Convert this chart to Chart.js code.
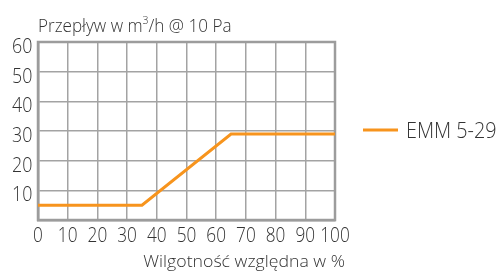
<!DOCTYPE html>
<html><head><meta charset="utf-8">
<script src="https://cdn.jsdelivr.net/npm/chart.js@4"></script>
<style>html,body{margin:0;padding:0;background:#fff}#c{display:block}</style>
</head><body>
<canvas id="c" width="501" height="271"></canvas>
<script>
const humidity = [0, 35, 65, 100];
const flow = [5, 5, 29, 29];
const seriesLabel = 'EMM 5-29';
const xTicks = [0,10,20,30,40,50,60,70,80,90,100];
const yTicks = [10,20,30,40,50,60];
const yTitleParts = ['Przepływ w m', '3', '/h @ 10 Pa'];
const xTitle = 'Wilgotność względna w %';

const FAMILY = "'Open Sans', 'Noto Sans', sans-serif";
const TEXT = '#333';
const orange = '#f7941d';

function txt(ctx, s, x, y, size, sx, align, base) {
  ctx.save();
  ctx.font = '300 ' + size + 'px ' + FAMILY;
  ctx.translate(x, y);
  ctx.scale(sx, 1);
  ctx.textAlign = align || 'left';
  ctx.textBaseline = base || 'alphabetic';
  ctx.fillText(s, 0, 0);
  const w = ctx.measureText(s).width * sx;
  ctx.restore();
  return w;
}

const overlay = {
  id: 'overlay',
  afterDraw(chart) {
    const ctx = chart.ctx, a = chart.chartArea;
    const xs = chart.scales.x, ys = chart.scales.y;
    ctx.save();
    ctx.fillStyle = TEXT;
    // tick labels
    xTicks.forEach(v => txt(ctx, String(v), xs.getPixelForValue(v), 236, 21, 0.82, 'center', 'middle'));
    yTicks.forEach(v => txt(ctx, String(v), 32.5, ys.getPixelForValue(v) + 5, 21, 0.85, 'right', 'middle'));
    // y title with superscript
    let x = a.left;
    const base = 32;
    x += txt(ctx, yTitleParts[0], x, base, 18, 0.95);
    x += txt(ctx, yTitleParts[1], x, base - 8, 11, 0.95);
    txt(ctx, yTitleParts[2], x, base, 18, 0.95);
    // x title
    txt(ctx, xTitle, a.right + 10, 267, 17, 1.04, 'right');
    // legend
    const ds = chart.data.datasets[0];
    ctx.strokeStyle = ds.borderColor;
    ctx.lineWidth = 3;
    ctx.beginPath();
    ctx.moveTo(363, 130); ctx.lineTo(398, 130);
    ctx.stroke();
    txt(ctx, ds.label, 406, 137.5, 22, 0.9);
    ctx.restore();
  }
};

new Chart(document.getElementById('c'), {
  type: 'line',
  data: {
    datasets: [{
      label: seriesLabel,
      data: humidity.map((h, i) => ({x: h, y: flow[i]})),
      borderColor: orange,
      borderWidth: 3,
      pointRadius: 0,
      fill: false,
      tension: 0
    }]
  },
  options: {
    responsive: false,
    animation: false,
    layout: {padding: {left: 0, top: 42, right: 166, bottom: 0}},
    plugins: {legend: {display: false}, tooltip: {enabled: false}},
    scales: {
      x: {
        type: 'linear', min: 0, max: 100,
        afterBuildTicks: s => { s.ticks = xTicks.map(v => ({value: v})); },
        afterFit: s => { s.height = 51; },
        grid: {color: '#a3a3a3', lineWidth: 1.5, drawTicks: false},
        border: {color: '#9c9c9c', width: 2.5},
        ticks: {display: false}
      },
      y: {
        min: 0, max: 60,
        afterBuildTicks: s => { s.ticks = [0].concat(yTicks).map(v => ({value: v})); },
        afterFit: s => { s.width = 38; },
        grid: {color: '#a3a3a3', lineWidth: 1.5, drawTicks: false},
        border: {color: '#9c9c9c', width: 2.5},
        ticks: {display: false}
      }
    }
  },
  plugins: [overlay, {
    id: 'frame',
    beforeDatasetsDraw(chart) {
      const ctx = chart.ctx, a = chart.chartArea;
      ctx.save();
      ctx.strokeStyle = '#9c9c9c';
      ctx.lineWidth = 2.5;
      ctx.strokeRect(a.left, a.top, a.right - a.left, a.bottom - a.top);
      ctx.restore();
    }
  }]
});
</script>
</body></html>
